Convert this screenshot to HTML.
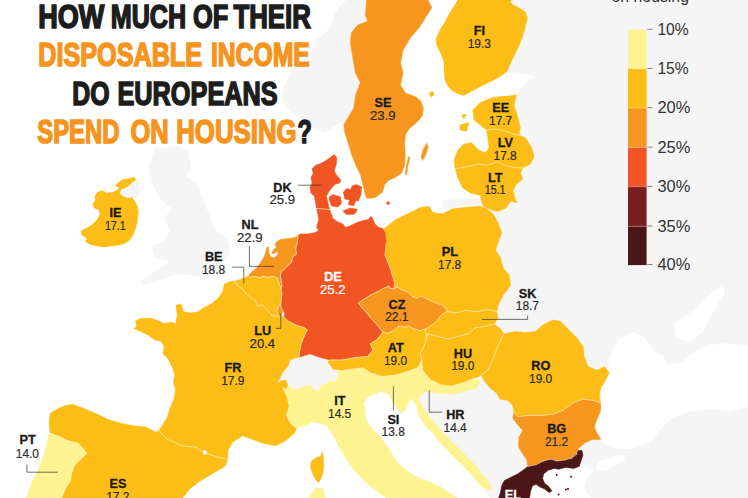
<!DOCTYPE html>
<html><head><meta charset="utf-8"><title>Housing</title>
<style>
html,body{margin:0;padding:0;background:#fff;}
body{width:748px;height:498px;overflow:hidden;font-family:"Liberation Sans",sans-serif;}
svg{display:block;font-family:"Liberation Sans",sans-serif;}
</style></head><body>
<svg width="748" height="498" viewBox="0 0 748 498">
<rect width="748" height="498" fill="#ffffff"/>
<polygon points="347.0,0.0 341.0,5.0 334.0,16.0 331.0,27.0 323.0,35.0 316.6,40.0 311.8,53.0 303.4,60.0 292.5,70.8 285.3,83.5 281.7,96.0 283.5,103.4 290.7,110.6 298.0,117.9 305.0,123.3 312.4,127.0 325.0,132.3 336.0,125.0 341.4,121.5 343.0,128.7 345.0,136.0 360.0,120.0 375.0,0.0" fill="#f5f5f5" stroke="#f5f5f5" stroke-width="0.6" stroke-linejoin="round"/>
<polygon points="155.0,149.0 179.0,146.0 188.0,152.0 191.0,170.0 185.0,176.0 197.0,185.0 203.0,200.0 209.0,215.0 215.0,230.0 227.5,239.4 230.5,251.4 224.5,260.5 215.4,266.5 227.0,270.0 224.0,273.0 200.0,275.5 176.0,274.0 155.0,281.5 143.0,284.5 140.0,281.5 155.0,272.0 170.0,262.0 167.0,260.5 155.0,258.0 152.0,246.0 164.0,242.0 170.2,230.4 164.0,218.0 173.0,209.0 161.0,200.0 152.0,182.0 149.0,167.0" fill="#f5f5f5" stroke="#f5f5f5" stroke-width="0.6" stroke-linejoin="round"/>
<polygon points="121.2,189.0 128.0,186.3 131.4,183.0 135.7,179.5 138.3,185.5 140.0,192.3 137.4,197.4 132.3,197.4 128.0,198.3 123.0,196.6 119.5,193.2" fill="#f5f5f5" stroke="#f5f5f5" stroke-width="0.6" stroke-linejoin="round"/>
<polygon points="277.0,383.2 280.0,378.2 283.0,372.0 288.0,366.0 290.0,360.0 295.0,358.0 300.0,359.0 306.0,357.0 311.0,354.0 318.0,356.0 326.0,359.0 329.0,364.0 334.0,366.0 337.0,371.0 338.0,377.0 335.0,382.0 330.0,380.0 326.0,385.0 322.0,384.0 318.0,392.0 314.0,389.0 310.0,385.0 304.0,387.0 298.0,389.0 292.0,389.0 288.0,386.0 286.0,380.0 281.0,381.0" fill="#f5f5f5" stroke="#f5f5f5" stroke-width="0.6" stroke-linejoin="round"/>
<polygon points="500.0,0.0 500.0,70.0 508.0,71.5 518.0,72.8 533.0,75.3 533.0,78.0 525.5,83.0 516.7,95.4 505.0,100.0 505.0,198.0 480.0,198.0 444.0,200.0 442.0,207.0 450.0,212.0 470.0,214.0 480.0,250.0 490.0,330.0 520.0,340.0 560.0,350.0 560.0,400.0 500.0,360.0 450.0,362.0 420.0,380.0 412.0,392.0 417.0,404.6 420.0,415.0 426.5,425.5 434.0,433.3 442.0,443.8 452.4,454.2 462.8,464.7 473.3,475.0 481.0,485.0 490.0,498.0 748.0,498.0 748.0,0.0" fill="#f5f5f5" stroke="#f5f5f5" stroke-width="0.6" stroke-linejoin="round"/>
<polygon points="608.4,367.5 609.5,358.0 612.8,350.0 619.4,339.0 632.5,332.5 643.4,336.9 650.0,345.6 654.4,352.2 663.0,356.6 667.5,365.3 680.6,363.0 693.7,352.2 706.9,345.6 724.4,343.4 748.0,345.6 748.0,406.9 728.7,411.2 711.2,409.0 689.4,411.2 671.9,417.8 661.0,428.7 650.0,441.9 632.5,448.4 615.0,448.4 601.9,441.9 599.7,437.5 595.3,420.0 599.7,407.0 604.0,389.4" fill="#ffffff" stroke="#ffffff" stroke-width="0.6" stroke-linejoin="round"/>
<polygon points="674.0,323.7 693.7,310.6 711.2,293.0 722.2,286.6 724.4,293.0 711.2,315.0 702.5,332.5 689.4,341.2 676.2,336.9" fill="#ffffff" stroke="#ffffff" stroke-width="0.6" stroke-linejoin="round"/>
<polygon points="598.0,462.0 622.0,455.0 626.0,459.0 606.0,470.0 596.0,470.0" fill="#ffffff" stroke="#ffffff" stroke-width="0.6" stroke-linejoin="round"/>
<polygon points="546.0,470.0 583.6,466.0 593.6,471.0 586.0,478.4 583.6,488.5 591.0,498.0 525.0,498.0 530.0,485.0" fill="#ffffff" stroke="#ffffff" stroke-width="0.6" stroke-linejoin="round"/>
<polygon points="366.6,0.0 365.3,15.0 367.8,21.3 357.8,25.0 351.5,32.6 350.3,42.7 352.8,57.7 355.3,72.8 360.3,82.8 355.5,95.0 353.8,108.3 348.3,117.0 343.8,124.8 344.9,132.6 348.3,143.6 351.6,154.6 356.0,165.7 360.4,174.5 362.6,183.4 364.8,192.2 365.9,197.7 368.0,198.4 374.8,197.7 382.5,192.2 384.7,184.5 389.0,180.0 394.6,177.8 401.3,173.4 404.6,165.7 405.2,154.6 404.6,143.6 405.7,133.7 410.0,128.0 416.7,122.6 422.3,116.0 423.4,108.3 421.0,101.6 416.0,97.0 405.5,92.9 400.5,85.3 403.0,72.8 400.5,62.8 403.0,50.2 410.5,37.7 419.3,27.6 425.6,17.6 431.9,7.5 428.0,0.0" fill="#f7961f" stroke="#f7961f" stroke-width="0.5" stroke-linejoin="round"/>
<polygon points="408.6,156.5 410.0,157.5 408.0,166.0 406.6,174.8 405.2,174.5 406.6,165.0" fill="#f7961f" stroke="#f7961f" stroke-width="0.5" stroke-linejoin="round"/>
<polygon points="426.7,143.2 428.2,146.5 425.8,154.6 422.6,160.4 421.0,157.0 423.4,149.0" fill="#f7961f" stroke="#f7961f" stroke-width="0.5" stroke-linejoin="round"/>
<polygon points="458.0,0.0 453.0,8.0 448.0,16.0 445.0,22.0 440.0,30.0 436.0,39.0 437.0,46.0 441.0,54.0 444.0,62.0 444.0,70.0 445.0,80.0 448.0,86.3 452.0,90.4 457.0,93.4 464.0,95.4 471.0,91.4 479.0,87.3 487.0,83.3 495.0,79.3 502.0,75.3 507.0,71.3 510.0,64.3 514.0,56.0 518.0,48.0 522.0,38.0 525.0,28.0 527.4,18.0 525.4,12.0 519.4,8.0 513.4,5.0 510.3,2.0 511.3,0.0" fill="#fbbd16" stroke="#fbbd16" stroke-width="0.5" stroke-linejoin="round"/>
<polygon points="429.0,93.0 433.0,91.5 434.0,95.0 431.0,97.0" fill="#fbbd16" stroke="#fbbd16" stroke-width="0.5" stroke-linejoin="round"/>
<polygon points="472.7,110.0 480.2,102.6 492.8,97.5 505.3,96.3 516.6,95.0 514.0,105.0 517.9,117.6 520.4,127.7 519.0,135.2 525.4,137.7 531.7,147.7 534.2,156.5 530.4,164.0 522.9,167.8 520.4,172.8 522.9,179.0 516.6,184.0 512.9,190.4 516.6,203.0 511.0,201.0 506.0,208.0 498.0,211.5 490.0,209.5 482.7,205.5 480.2,195.4 470.2,192.9 462.7,187.9 457.7,177.9 455.0,167.8 453.9,160.3 457.7,150.2 463.9,144.0 471.5,142.7 479.0,150.2 485.3,152.8 489.0,147.7 487.8,137.7 486.5,130.2 480.2,125.0 474.0,120.0" fill="#fbbd16" stroke="#fbbd16" stroke-width="0.5" stroke-linejoin="round"/>
<polygon points="460.0,125.0 469.0,122.6 466.4,131.4 460.0,130.0" fill="#fbbd16" stroke="#fbbd16" stroke-width="0.5" stroke-linejoin="round"/>
<polygon points="461.4,115.0 466.4,114.5 464.0,119.0" fill="#fbbd16" stroke="#fbbd16" stroke-width="0.5" stroke-linejoin="round"/>
<polygon points="134.0,177.0 135.7,179.5 131.4,183.0 128.0,186.3 124.6,188.0 121.2,189.0 119.5,193.2 123.0,196.6 128.0,198.3 132.3,197.4 134.8,201.7 137.4,206.0 138.3,212.8 137.4,221.3 135.7,228.0 133.0,235.0 129.7,240.0 124.6,243.5 117.8,245.2 111.0,246.0 104.0,247.0 97.3,246.0 90.5,244.4 85.4,241.8 87.0,238.4 82.0,235.0 81.0,230.7 87.0,228.0 92.2,224.7 97.3,219.6 99.9,214.5 99.0,210.2 93.9,207.7 93.0,203.4 95.6,200.0 94.7,196.6 97.3,192.3 102.4,190.6 106.7,193.2 112.7,192.3 117.0,190.6 119.5,187.2 115.2,186.3 117.8,183.0 122.9,179.5 128.9,178.7" fill="#fbbd16" stroke="#fbbd16" stroke-width="0.5" stroke-linejoin="round"/>
<polygon points="334.2,154.4 336.8,157.7 336.4,164.3 334.2,171.0 337.5,176.4 340.8,179.8 339.7,183.0 335.3,184.2 332.0,187.5 328.7,192.0 326.4,196.3 327.6,200.7 328.7,206.3 329.8,209.6 316.5,208.5 315.4,201.9 314.3,196.3 311.0,193.0 310.0,187.5 312.0,183.0 311.0,177.6 313.2,173.0 312.0,168.7 315.4,165.4 321.0,163.2 325.3,161.0 329.8,157.7" fill="#f05523" stroke="#f05523" stroke-width="0.5" stroke-linejoin="round"/>
<polygon points="328.9,197.2 333.0,194.6 340.3,196.8 341.6,203.2 338.0,207.0 331.6,206.0 329.6,201.0" fill="#f05523" stroke="#f05523" stroke-width="0.5" stroke-linejoin="round"/>
<polygon points="343.3,192.0 347.0,188.5 350.7,189.5 352.0,186.0 356.3,184.6 361.6,186.8 361.0,194.0 358.4,201.0 356.0,200.5 353.6,206.0 348.3,204.5 349.5,200.0 344.8,199.0" fill="#f05523" stroke="#f05523" stroke-width="0.5" stroke-linejoin="round"/>
<polygon points="343.0,210.7 350.7,208.0 357.3,209.2 356.5,212.0 354.0,214.3 346.0,214.6" fill="#f05523" stroke="#f05523" stroke-width="0.5" stroke-linejoin="round"/>
<polygon points="386.8,201.7 389.6,202.2 389.2,204.6 386.8,204.2" fill="#f05523" stroke="#f05523" stroke-width="0.5" stroke-linejoin="round"/>
<polygon points="383.8,228.9 395.0,220.0 407.7,213.8 420.2,207.5 429.0,206.3 432.8,212.6 442.8,213.8 452.8,208.8 465.4,207.5 480.4,206.3 486.7,208.8 493.0,213.8 498.0,222.6 501.8,232.7 498.0,242.7 495.5,250.2 500.5,257.8 503.0,267.8 509.3,275.3 510.6,285.4 503.0,295.4 498.0,305.4 496.8,311.7 488.0,309.2 478.0,311.7 465.4,310.5 455.3,313.0 447.1,311.5 446.4,308.7 442.2,305.2 436.6,303.0 431.0,300.9 425.3,298.1 421.1,296.0 416.9,298.1 412.7,296.7 411.3,294.6 407.0,291.8 401.4,289.7 397.2,286.9 393.7,289.0 394.5,285.0 393.8,280.3 390.0,267.8 385.0,255.2 386.3,242.7" fill="#fbbd16" stroke="#fbbd16" stroke-width="0.5" stroke-linejoin="round"/>
<polygon points="316.5,208.5 329.8,209.6 330.9,213.0 333.0,218.4 337.5,221.7 343.0,224.0 345.2,227.3 349.6,226.0 356.3,222.8 362.9,220.6 368.4,219.5 370.6,216.2 372.8,218.4 375.0,224.0 378.4,227.3 382.8,228.4 385.0,232.8 386.3,242.7 385.0,255.2 390.0,267.8 393.8,280.3 394.5,285.0 393.7,289.0 390.2,288.3 388.8,286.2 385.2,287.6 377.5,291.8 370.5,295.3 363.4,299.5 358.5,303.0 362.0,308.0 366.3,312.2 370.5,317.8 376.1,323.4 380.3,329.0 383.1,331.9 377.9,338.8 370.4,343.8 372.9,350.0 367.9,356.4 355.3,357.6 342.8,360.0 330.2,360.0 320.2,357.6 310.0,353.9 299.0,357.3 299.3,352.5 300.9,344.4 304.0,336.4 307.3,330.0 304.0,327.6 296.0,325.2 288.0,321.0 284.0,317.0 284.8,313.9 282.4,309.0 280.8,304.3 281.2,299.0 282.0,294.0 281.2,288.5 282.0,286.0 281.2,281.2 280.4,276.4 281.2,271.6 284.4,269.2 288.5,265.2 291.7,262.0 292.5,257.0 296.5,253.9 295.7,249.0 297.3,242.7 298.0,235.4 296.6,237.2 300.0,233.9 307.7,233.9 314.3,232.8 318.7,230.6 316.5,227.3 318.7,219.5 317.6,213.0" fill="#f05523" stroke="#f05523" stroke-width="0.5" stroke-linejoin="round"/>
<polygon points="276.4,241.9 280.4,239.5 286.0,238.7 292.5,237.9 296.5,237.0 298.0,235.4 297.3,242.7 295.7,249.0 296.5,253.9 292.5,257.0 291.7,262.0 288.5,265.2 284.4,269.2 281.2,271.6 280.4,276.4 281.2,281.2 282.0,286.0 281.2,288.5 278.8,282.8 277.2,278.0 273.2,276.4 268.4,277.2 263.6,276.4 259.5,278.0 255.5,276.4 250.7,277.2 249.0,274.8 253.0,270.8 257.0,267.6 261.0,262.0 264.4,256.3 266.0,250.7 267.0,246.7 268.7,247.2 268.7,252.3 270.5,256.3 273.2,258.0 276.4,256.3 278.3,253.6 276.7,251.5 273.2,253.9 271.6,253.0 274.0,249.0 276.7,247.5 275.0,245.0" fill="#f7961f" stroke="#f7961f" stroke-width="0.5" stroke-linejoin="round"/>
<polygon points="135.4,320.9 140.7,318.3 151.0,318.3 159.0,320.9 164.2,323.5 170.7,322.2 175.9,323.5 177.2,314.4 175.9,305.2 181.1,303.9 183.7,311.8 190.3,313.0 198.0,311.8 203.3,307.9 211.2,303.9 217.7,298.7 222.9,290.9 224.2,284.4 229.4,281.7 234.6,281.2 236.2,284.0 241.4,288.2 246.2,293.8 251.0,297.9 255.9,301.0 257.5,305.9 262.3,305.0 267.0,309.9 272.0,315.5 277.0,316.3 280.8,316.3 284.0,317.0 288.0,321.0 296.0,325.2 304.0,327.6 307.3,330.0 304.0,336.4 300.9,344.4 299.3,352.5 299.0,357.3 295.0,358.0 290.0,360.0 288.0,366.0 283.0,372.0 280.0,378.2 277.0,383.2 281.0,381.0 286.0,380.0 288.0,386.0 287.0,389.5 283.0,388.0 286.8,395.6 289.3,405.6 286.8,415.7 290.5,423.2 296.8,428.2 294.3,433.2 285.5,440.8 275.5,445.8 263.0,443.3 252.9,439.5 242.9,435.7 232.8,442.0 227.8,450.8 227.8,459.6 217.8,457.0 205.2,453.3 195.2,447.0 182.6,445.8 167.6,439.5 158.8,430.7 162.5,425.0 167.0,418.0 170.0,408.0 174.0,399.0 175.5,390.0 173.5,382.3 174.6,374.4 172.0,366.6 168.0,358.8 162.9,353.6 164.2,347.0 161.6,341.8 153.7,339.2 148.5,335.3 140.7,331.4 134.0,328.7 136.7,326.0" fill="#fbbd16" stroke="#fbbd16" stroke-width="0.5" stroke-linejoin="round"/>
<polygon points="322.1,451.2 323.5,457.3 323.9,465.5 322.8,473.7 320.7,479.2 318.7,482.6 316.0,479.9 313.2,475.0 311.2,469.6 310.5,464.2 312.5,460.0 317.3,457.3 320.7,456.6 321.7,453.2" fill="#fbbd16" stroke="#fbbd16" stroke-width="0.5" stroke-linejoin="round"/>
<polygon points="234.6,281.2 244.3,278.0 249.0,275.6 250.7,277.2 255.5,276.4 259.5,278.0 263.6,276.4 268.4,277.2 273.2,276.4 277.2,278.0 278.8,282.8 281.2,288.5 282.0,294.0 281.2,299.0 280.8,304.3 279.2,305.0 277.0,310.0 277.6,314.7 277.0,316.3 272.0,315.5 267.0,309.9 262.3,305.0 257.5,305.9 255.9,301.0 251.0,297.9 246.2,293.8 241.4,288.2 236.2,284.0" fill="#fbbd16" stroke="#fbbd16" stroke-width="0.5" stroke-linejoin="round"/>
<polygon points="279.2,305.0 281.6,307.5 282.4,312.3 280.8,316.3 277.6,314.7 277.0,310.0" fill="#f7961f" stroke="#f7961f" stroke-width="0.5" stroke-linejoin="round"/>
<polygon points="50.2,433.2 49.0,423.2 50.2,413.2 56.5,409.4 65.3,405.6 72.8,404.4 82.8,408.0 95.4,413.2 108.0,419.4 120.5,423.2 133.0,425.7 145.6,427.0 155.6,432.0 158.8,430.7 167.6,439.5 182.6,445.8 195.2,447.0 205.2,453.3 217.8,457.0 227.8,459.6 225.3,465.9 212.8,473.4 200.2,480.9 190.2,488.5 182.6,498.0 61.5,498.0 65.3,488.5 70.3,481.0 71.5,473.4 74.0,465.9 80.3,459.6 86.6,453.3 82.8,448.3 77.8,443.3 67.8,440.8 60.2,437.0" fill="#fbbd16" stroke="#fbbd16" stroke-width="0.5" stroke-linejoin="round"/>
<polygon points="50.2,433.2 60.2,437.0 67.8,440.8 77.8,443.3 82.8,448.3 86.6,453.3 80.3,459.6 74.0,465.9 71.5,473.4 70.3,481.0 65.3,488.5 61.5,498.0 26.4,498.0 31.4,483.4 37.7,470.9 42.7,458.3 46.4,445.8 49.0,434.5" fill="#fdf391" stroke="#fdf391" stroke-width="0.5" stroke-linejoin="round"/>
<polygon points="283.0,388.0 287.0,389.5 288.0,386.0 292.0,389.0 298.0,389.0 304.0,387.0 310.0,385.0 314.0,389.0 318.0,392.0 322.0,384.0 326.0,385.0 330.0,380.0 335.0,382.0 338.0,377.0 337.0,371.0 342.8,370.2 352.8,369.0 362.9,367.7 370.4,372.7 383.0,376.5 382.2,383.7 384.8,390.2 388.7,394.2 380.9,391.6 367.8,396.8 363.5,404.0 365.0,408.6 366.0,419.3 371.3,427.8 380.0,436.4 386.3,445.0 392.7,455.6 399.0,464.2 409.8,472.7 420.5,479.0 431.2,482.4 442.0,487.7 450.5,494.0 457.0,498.0 386.3,498.0 377.8,492.0 367.0,483.4 356.4,472.7 347.8,462.0 339.3,447.0 332.8,434.2 326.4,425.7 320.0,423.0 312.6,422.0 305.0,425.7 296.8,428.2 290.5,423.2 286.8,415.7 289.3,405.6 286.8,395.6" fill="#fdf391" stroke="#fdf391" stroke-width="0.5" stroke-linejoin="round"/>
<polygon points="314.6,490.0 316.0,487.4 322.8,488.7 325.5,498.0 309.0,498.0" fill="#fdf391" stroke="#fdf391" stroke-width="0.5" stroke-linejoin="round"/>
<polygon points="327.7,361.4 330.2,360.0 342.8,360.0 355.3,357.6 367.9,356.4 372.9,350.0 370.4,343.8 377.9,338.8 383.1,331.9 387.3,333.3 391.6,331.9 395.8,329.0 398.6,326.3 403.5,327.0 409.2,326.3 414.0,329.0 419.7,330.5 425.3,329.0 426.6,337.7 424.0,346.5 420.3,352.8 421.6,360.3 418.0,367.7 408.0,371.5 395.5,375.2 383.0,376.5 370.4,372.7 362.9,367.7 352.8,369.0 342.8,370.2 332.8,369.0" fill="#fbbd16" stroke="#fbbd16" stroke-width="0.5" stroke-linejoin="round"/>
<polygon points="393.7,289.0 390.2,288.3 388.8,286.2 385.2,287.6 377.5,291.8 370.5,295.3 363.4,299.5 358.5,303.0 362.0,308.0 366.3,312.2 370.5,317.8 376.1,323.4 380.3,329.0 383.1,331.9 387.3,333.3 391.6,331.9 395.8,329.0 398.6,326.3 403.5,327.0 409.2,326.3 414.0,329.0 419.7,330.5 425.3,329.0 431.0,325.6 435.9,322.0 439.4,317.8 442.9,313.6 447.1,311.5 446.4,308.7 442.2,305.2 436.6,303.0 431.0,300.9 425.3,298.1 421.1,296.0 416.9,298.1 412.7,296.7 411.3,294.6 407.0,291.8 401.4,289.7 397.2,286.9" fill="#f7961f" stroke="#f7961f" stroke-width="0.5" stroke-linejoin="round"/>
<polygon points="447.1,311.5 455.3,313.0 465.4,310.5 478.0,311.7 488.0,309.2 496.8,311.7 498.0,317.6 494.4,324.0 485.6,326.4 475.5,327.7 468.0,334.0 458.0,336.5 448.0,339.0 437.9,336.5 427.9,334.0 426.6,337.7 425.3,329.0 431.0,325.6 435.9,322.0 439.4,317.8 442.9,313.6 447.1,311.5" fill="#fbbd16" stroke="#fbbd16" stroke-width="0.5" stroke-linejoin="round"/>
<polygon points="426.6,337.7 427.9,334.0 437.9,336.5 448.0,339.0 458.0,336.5 468.0,334.0 475.5,327.7 485.6,326.4 494.4,324.0 500.6,329.0 504.0,334.0 500.0,341.4 496.4,350.2 492.6,360.2 487.6,370.3 481.3,375.3 474.9,378.0 464.4,382.4 451.4,386.3 441.0,385.0 430.5,379.8 422.7,370.7 421.6,360.3 420.3,352.8 424.0,346.5" fill="#fbbd16" stroke="#fbbd16" stroke-width="0.5" stroke-linejoin="round"/>
<polygon points="504.0,334.0 515.2,331.4 525.3,332.6 535.3,331.4 542.8,325.0 552.9,320.0 560.4,321.3 568.0,328.9 576.7,337.7 583.0,346.4 584.2,356.5 588.0,366.5 596.8,370.3 604.3,366.5 609.3,372.8 605.6,380.3 600.6,387.9 599.3,396.6 600.6,403.0 593.0,400.4 583.0,399.0 573.0,403.0 563.0,410.4 552.9,414.2 540.3,415.5 527.8,415.5 517.7,416.7 514.0,411.7 512.7,405.4 507.7,400.4 500.0,399.0 496.4,392.9 490.0,387.9 483.8,380.3 481.3,375.3 487.6,370.3 492.6,360.2 496.4,350.2 500.0,341.4" fill="#fbbd16" stroke="#fbbd16" stroke-width="0.5" stroke-linejoin="round"/>
<polygon points="514.0,411.7 517.7,416.7 527.8,415.5 540.3,415.5 552.9,414.2 563.0,410.4 573.0,403.0 583.0,399.0 593.0,400.4 600.6,403.0 600.6,410.7 596.8,419.4 594.3,427.0 596.8,433.2 601.0,439.5 592.3,439.4 584.8,443.0 579.2,447.8 577.3,450.6 576.4,454.3 571.7,458.0 564.2,460.0 556.7,460.9 551.1,459.0 543.6,460.9 536.1,464.6 527.7,466.5 526.8,460.0 523.0,454.3 518.4,446.8 519.0,437.0 522.8,430.7 516.5,423.2 512.7,418.2" fill="#f7961f" stroke="#f7961f" stroke-width="0.5" stroke-linejoin="round"/>
<polygon points="527.7,466.5 536.1,464.6 543.6,460.9 551.1,459.0 556.7,460.9 564.2,460.0 571.7,458.0 576.4,454.3 577.3,450.6 582.0,450.6 583.0,455.3 581.0,460.9 579.2,466.5 573.6,468.4 566.0,467.4 558.6,469.3 554.0,468.4 548.3,470.2 543.6,474.0 542.7,478.7 544.6,483.3 548.3,486.1 552.0,490.8 549.2,492.7 544.6,489.0 539.9,487.0 536.1,484.3 532.4,486.1 530.5,491.8 529.6,498.0 498.7,498.0 500.6,491.8 501.5,486.1 504.3,480.5 511.8,476.8 517.4,474.0 523.0,470.2" fill="#4b1618" stroke="#4b1618" stroke-width="0.5" stroke-linejoin="round"/>
<polygon points="383.0,376.5 395.5,375.2 408.0,371.5 418.0,367.7 420.6,374.6 416.0,381.0 412.2,386.3 408.3,391.6 399.2,394.2 388.7,394.2 384.8,390.2 382.2,383.7" fill="#fdf391" stroke="#fdf391" stroke-width="0.5" stroke-linejoin="round"/>
<polygon points="420.6,374.6 418.0,367.7 421.6,360.3 422.7,370.7 430.5,379.8 441.0,385.0 451.4,386.3 464.4,382.4 474.9,378.0 479.5,381.5 477.5,387.6 464.4,391.6 451.4,394.2 438.3,392.9 425.3,391.6 418.7,398.0 422.7,407.2 430.5,417.7 441.0,430.7 451.4,441.2 464.4,454.2 474.9,464.7 482.7,475.0 490.0,483.0 492.0,490.0 484.0,488.0 480.0,485.0 472.3,475.0 461.8,464.7 451.4,454.2 441.0,443.8 433.0,433.3 425.3,425.5 418.7,415.0 416.0,404.6 410.9,398.0 407.0,407.2 401.8,413.7 395.2,405.9 391.3,399.4 388.7,394.2 399.2,394.2 408.3,391.6 412.2,386.3 416.0,381.0" fill="#fdf391" stroke="#fdf391" stroke-width="0.5" stroke-linejoin="round"/>
<line x1="316.5" y1="208.5" x2="329.8" y2="209.6" stroke="#ffefc4" stroke-opacity="0.85" stroke-width="0.8" stroke-linecap="round"/>
<line x1="488" y1="309.2" x2="496.8" y2="311.7" stroke="#ffefc4" stroke-opacity="0.85" stroke-width="0.8" stroke-linecap="round"/>
<line x1="478" y1="311.7" x2="488" y2="309.2" stroke="#ffefc4" stroke-opacity="0.85" stroke-width="0.8" stroke-linecap="round"/>
<line x1="465.4" y1="310.5" x2="478" y2="311.7" stroke="#ffefc4" stroke-opacity="0.85" stroke-width="0.8" stroke-linecap="round"/>
<line x1="455.3" y1="313" x2="465.4" y2="310.5" stroke="#ffefc4" stroke-opacity="0.85" stroke-width="0.8" stroke-linecap="round"/>
<line x1="447.1" y1="311.5" x2="455.3" y2="313" stroke="#ffefc4" stroke-opacity="0.85" stroke-width="0.8" stroke-linecap="round"/>
<line x1="446.4" y1="308.7" x2="447.1" y2="311.5" stroke="#ffefc4" stroke-opacity="0.85" stroke-width="0.8" stroke-linecap="round"/>
<line x1="442.2" y1="305.2" x2="446.4" y2="308.7" stroke="#ffefc4" stroke-opacity="0.85" stroke-width="0.8" stroke-linecap="round"/>
<line x1="436.6" y1="303" x2="442.2" y2="305.2" stroke="#ffefc4" stroke-opacity="0.85" stroke-width="0.8" stroke-linecap="round"/>
<line x1="431" y1="300.9" x2="436.6" y2="303" stroke="#ffefc4" stroke-opacity="0.85" stroke-width="0.8" stroke-linecap="round"/>
<line x1="425.3" y1="298.1" x2="431" y2="300.9" stroke="#ffefc4" stroke-opacity="0.85" stroke-width="0.8" stroke-linecap="round"/>
<line x1="421.1" y1="296" x2="425.3" y2="298.1" stroke="#ffefc4" stroke-opacity="0.85" stroke-width="0.8" stroke-linecap="round"/>
<line x1="416.9" y1="298.1" x2="421.1" y2="296" stroke="#ffefc4" stroke-opacity="0.85" stroke-width="0.8" stroke-linecap="round"/>
<line x1="412.7" y1="296.7" x2="416.9" y2="298.1" stroke="#ffefc4" stroke-opacity="0.85" stroke-width="0.8" stroke-linecap="round"/>
<line x1="411.3" y1="294.6" x2="412.7" y2="296.7" stroke="#ffefc4" stroke-opacity="0.85" stroke-width="0.8" stroke-linecap="round"/>
<line x1="407" y1="291.8" x2="411.3" y2="294.6" stroke="#ffefc4" stroke-opacity="0.85" stroke-width="0.8" stroke-linecap="round"/>
<line x1="401.4" y1="289.7" x2="407" y2="291.8" stroke="#ffefc4" stroke-opacity="0.85" stroke-width="0.8" stroke-linecap="round"/>
<line x1="397.2" y1="286.9" x2="401.4" y2="289.7" stroke="#ffefc4" stroke-opacity="0.85" stroke-width="0.8" stroke-linecap="round"/>
<line x1="393.7" y1="289" x2="397.2" y2="286.9" stroke="#ffefc4" stroke-opacity="0.85" stroke-width="0.8" stroke-linecap="round"/>
<line x1="393.7" y1="289" x2="394.5" y2="285" stroke="#ffefc4" stroke-opacity="0.85" stroke-width="0.8" stroke-linecap="round"/>
<line x1="393.8" y1="280.3" x2="394.5" y2="285" stroke="#ffefc4" stroke-opacity="0.85" stroke-width="0.8" stroke-linecap="round"/>
<line x1="390" y1="267.8" x2="393.8" y2="280.3" stroke="#ffefc4" stroke-opacity="0.85" stroke-width="0.8" stroke-linecap="round"/>
<line x1="385" y1="255.2" x2="390" y2="267.8" stroke="#ffefc4" stroke-opacity="0.85" stroke-width="0.8" stroke-linecap="round"/>
<line x1="385" y1="255.2" x2="386.3" y2="242.7" stroke="#ffefc4" stroke-opacity="0.85" stroke-width="0.8" stroke-linecap="round"/>
<line x1="390.2" y1="288.3" x2="393.7" y2="289" stroke="#ffefc4" stroke-opacity="0.85" stroke-width="0.8" stroke-linecap="round"/>
<line x1="388.8" y1="286.2" x2="390.2" y2="288.3" stroke="#ffefc4" stroke-opacity="0.85" stroke-width="0.8" stroke-linecap="round"/>
<line x1="385.2" y1="287.6" x2="388.8" y2="286.2" stroke="#ffefc4" stroke-opacity="0.85" stroke-width="0.8" stroke-linecap="round"/>
<line x1="377.5" y1="291.8" x2="385.2" y2="287.6" stroke="#ffefc4" stroke-opacity="0.85" stroke-width="0.8" stroke-linecap="round"/>
<line x1="370.5" y1="295.3" x2="377.5" y2="291.8" stroke="#ffefc4" stroke-opacity="0.85" stroke-width="0.8" stroke-linecap="round"/>
<line x1="363.4" y1="299.5" x2="370.5" y2="295.3" stroke="#ffefc4" stroke-opacity="0.85" stroke-width="0.8" stroke-linecap="round"/>
<line x1="358.5" y1="303" x2="363.4" y2="299.5" stroke="#ffefc4" stroke-opacity="0.85" stroke-width="0.8" stroke-linecap="round"/>
<line x1="358.5" y1="303" x2="362" y2="308" stroke="#ffefc4" stroke-opacity="0.85" stroke-width="0.8" stroke-linecap="round"/>
<line x1="362" y1="308" x2="366.3" y2="312.2" stroke="#ffefc4" stroke-opacity="0.85" stroke-width="0.8" stroke-linecap="round"/>
<line x1="366.3" y1="312.2" x2="370.5" y2="317.8" stroke="#ffefc4" stroke-opacity="0.85" stroke-width="0.8" stroke-linecap="round"/>
<line x1="370.5" y1="317.8" x2="376.1" y2="323.4" stroke="#ffefc4" stroke-opacity="0.85" stroke-width="0.8" stroke-linecap="round"/>
<line x1="376.1" y1="323.4" x2="380.3" y2="329" stroke="#ffefc4" stroke-opacity="0.85" stroke-width="0.8" stroke-linecap="round"/>
<line x1="380.3" y1="329" x2="383.1" y2="331.9" stroke="#ffefc4" stroke-opacity="0.85" stroke-width="0.8" stroke-linecap="round"/>
<line x1="377.9" y1="338.8" x2="383.1" y2="331.9" stroke="#ffefc4" stroke-opacity="0.85" stroke-width="0.8" stroke-linecap="round"/>
<line x1="370.4" y1="343.8" x2="377.9" y2="338.8" stroke="#ffefc4" stroke-opacity="0.85" stroke-width="0.8" stroke-linecap="round"/>
<line x1="370.4" y1="343.8" x2="372.9" y2="350" stroke="#ffefc4" stroke-opacity="0.85" stroke-width="0.8" stroke-linecap="round"/>
<line x1="367.9" y1="356.4" x2="372.9" y2="350" stroke="#ffefc4" stroke-opacity="0.85" stroke-width="0.8" stroke-linecap="round"/>
<line x1="355.3" y1="357.6" x2="367.9" y2="356.4" stroke="#ffefc4" stroke-opacity="0.85" stroke-width="0.8" stroke-linecap="round"/>
<line x1="342.8" y1="360" x2="355.3" y2="357.6" stroke="#ffefc4" stroke-opacity="0.85" stroke-width="0.8" stroke-linecap="round"/>
<line x1="330.2" y1="360" x2="342.8" y2="360" stroke="#ffefc4" stroke-opacity="0.85" stroke-width="0.8" stroke-linecap="round"/>
<line x1="299" y1="357.3" x2="299.3" y2="352.5" stroke="#ffefc4" stroke-opacity="0.85" stroke-width="0.8" stroke-linecap="round"/>
<line x1="299.3" y1="352.5" x2="300.9" y2="344.4" stroke="#ffefc4" stroke-opacity="0.85" stroke-width="0.8" stroke-linecap="round"/>
<line x1="300.9" y1="344.4" x2="304" y2="336.4" stroke="#ffefc4" stroke-opacity="0.85" stroke-width="0.8" stroke-linecap="round"/>
<line x1="304" y1="336.4" x2="307.3" y2="330" stroke="#ffefc4" stroke-opacity="0.85" stroke-width="0.8" stroke-linecap="round"/>
<line x1="304" y1="327.6" x2="307.3" y2="330" stroke="#ffefc4" stroke-opacity="0.85" stroke-width="0.8" stroke-linecap="round"/>
<line x1="296" y1="325.2" x2="304" y2="327.6" stroke="#ffefc4" stroke-opacity="0.85" stroke-width="0.8" stroke-linecap="round"/>
<line x1="288" y1="321" x2="296" y2="325.2" stroke="#ffefc4" stroke-opacity="0.85" stroke-width="0.8" stroke-linecap="round"/>
<line x1="284" y1="317" x2="288" y2="321" stroke="#ffefc4" stroke-opacity="0.85" stroke-width="0.8" stroke-linecap="round"/>
<line x1="280.8" y1="304.3" x2="281.2" y2="299" stroke="#ffefc4" stroke-opacity="0.85" stroke-width="0.8" stroke-linecap="round"/>
<line x1="281.2" y1="299" x2="282" y2="294" stroke="#ffefc4" stroke-opacity="0.85" stroke-width="0.8" stroke-linecap="round"/>
<line x1="281.2" y1="288.5" x2="282" y2="294" stroke="#ffefc4" stroke-opacity="0.85" stroke-width="0.8" stroke-linecap="round"/>
<line x1="281.2" y1="288.5" x2="282" y2="286" stroke="#ffefc4" stroke-opacity="0.85" stroke-width="0.8" stroke-linecap="round"/>
<line x1="281.2" y1="281.2" x2="282" y2="286" stroke="#ffefc4" stroke-opacity="0.85" stroke-width="0.8" stroke-linecap="round"/>
<line x1="280.4" y1="276.4" x2="281.2" y2="281.2" stroke="#ffefc4" stroke-opacity="0.85" stroke-width="0.8" stroke-linecap="round"/>
<line x1="280.4" y1="276.4" x2="281.2" y2="271.6" stroke="#ffefc4" stroke-opacity="0.85" stroke-width="0.8" stroke-linecap="round"/>
<line x1="281.2" y1="271.6" x2="284.4" y2="269.2" stroke="#ffefc4" stroke-opacity="0.85" stroke-width="0.8" stroke-linecap="round"/>
<line x1="284.4" y1="269.2" x2="288.5" y2="265.2" stroke="#ffefc4" stroke-opacity="0.85" stroke-width="0.8" stroke-linecap="round"/>
<line x1="288.5" y1="265.2" x2="291.7" y2="262" stroke="#ffefc4" stroke-opacity="0.85" stroke-width="0.8" stroke-linecap="round"/>
<line x1="291.7" y1="262" x2="292.5" y2="257" stroke="#ffefc4" stroke-opacity="0.85" stroke-width="0.8" stroke-linecap="round"/>
<line x1="292.5" y1="257" x2="296.5" y2="253.9" stroke="#ffefc4" stroke-opacity="0.85" stroke-width="0.8" stroke-linecap="round"/>
<line x1="295.7" y1="249" x2="296.5" y2="253.9" stroke="#ffefc4" stroke-opacity="0.85" stroke-width="0.8" stroke-linecap="round"/>
<line x1="295.7" y1="249" x2="297.3" y2="242.7" stroke="#ffefc4" stroke-opacity="0.85" stroke-width="0.8" stroke-linecap="round"/>
<line x1="297.3" y1="242.7" x2="298" y2="235.4" stroke="#ffefc4" stroke-opacity="0.85" stroke-width="0.8" stroke-linecap="round"/>
<line x1="278.8" y1="282.8" x2="281.2" y2="288.5" stroke="#ffefc4" stroke-opacity="0.85" stroke-width="0.8" stroke-linecap="round"/>
<line x1="277.2" y1="278" x2="278.8" y2="282.8" stroke="#ffefc4" stroke-opacity="0.85" stroke-width="0.8" stroke-linecap="round"/>
<line x1="273.2" y1="276.4" x2="277.2" y2="278" stroke="#ffefc4" stroke-opacity="0.85" stroke-width="0.8" stroke-linecap="round"/>
<line x1="268.4" y1="277.2" x2="273.2" y2="276.4" stroke="#ffefc4" stroke-opacity="0.85" stroke-width="0.8" stroke-linecap="round"/>
<line x1="263.6" y1="276.4" x2="268.4" y2="277.2" stroke="#ffefc4" stroke-opacity="0.85" stroke-width="0.8" stroke-linecap="round"/>
<line x1="259.5" y1="278" x2="263.6" y2="276.4" stroke="#ffefc4" stroke-opacity="0.85" stroke-width="0.8" stroke-linecap="round"/>
<line x1="255.5" y1="276.4" x2="259.5" y2="278" stroke="#ffefc4" stroke-opacity="0.85" stroke-width="0.8" stroke-linecap="round"/>
<line x1="250.7" y1="277.2" x2="255.5" y2="276.4" stroke="#ffefc4" stroke-opacity="0.85" stroke-width="0.8" stroke-linecap="round"/>
<line x1="234.6" y1="281.2" x2="236.2" y2="284" stroke="#ffefc4" stroke-opacity="0.85" stroke-width="0.8" stroke-linecap="round"/>
<line x1="236.2" y1="284" x2="241.4" y2="288.2" stroke="#ffefc4" stroke-opacity="0.85" stroke-width="0.8" stroke-linecap="round"/>
<line x1="241.4" y1="288.2" x2="246.2" y2="293.8" stroke="#ffefc4" stroke-opacity="0.85" stroke-width="0.8" stroke-linecap="round"/>
<line x1="246.2" y1="293.8" x2="251" y2="297.9" stroke="#ffefc4" stroke-opacity="0.85" stroke-width="0.8" stroke-linecap="round"/>
<line x1="251" y1="297.9" x2="255.9" y2="301" stroke="#ffefc4" stroke-opacity="0.85" stroke-width="0.8" stroke-linecap="round"/>
<line x1="255.9" y1="301" x2="257.5" y2="305.9" stroke="#ffefc4" stroke-opacity="0.85" stroke-width="0.8" stroke-linecap="round"/>
<line x1="257.5" y1="305.9" x2="262.3" y2="305" stroke="#ffefc4" stroke-opacity="0.85" stroke-width="0.8" stroke-linecap="round"/>
<line x1="262.3" y1="305" x2="267" y2="309.9" stroke="#ffefc4" stroke-opacity="0.85" stroke-width="0.8" stroke-linecap="round"/>
<line x1="267" y1="309.9" x2="272" y2="315.5" stroke="#ffefc4" stroke-opacity="0.85" stroke-width="0.8" stroke-linecap="round"/>
<line x1="272" y1="315.5" x2="277" y2="316.3" stroke="#ffefc4" stroke-opacity="0.85" stroke-width="0.8" stroke-linecap="round"/>
<line x1="287" y1="389.5" x2="288" y2="386" stroke="#ffefc4" stroke-opacity="0.85" stroke-width="0.8" stroke-linecap="round"/>
<line x1="283" y1="388" x2="287" y2="389.5" stroke="#ffefc4" stroke-opacity="0.85" stroke-width="0.8" stroke-linecap="round"/>
<line x1="283" y1="388" x2="286.8" y2="395.6" stroke="#ffefc4" stroke-opacity="0.85" stroke-width="0.8" stroke-linecap="round"/>
<line x1="286.8" y1="395.6" x2="289.3" y2="405.6" stroke="#ffefc4" stroke-opacity="0.85" stroke-width="0.8" stroke-linecap="round"/>
<line x1="286.8" y1="415.7" x2="289.3" y2="405.6" stroke="#ffefc4" stroke-opacity="0.85" stroke-width="0.8" stroke-linecap="round"/>
<line x1="286.8" y1="415.7" x2="290.5" y2="423.2" stroke="#ffefc4" stroke-opacity="0.85" stroke-width="0.8" stroke-linecap="round"/>
<line x1="290.5" y1="423.2" x2="296.8" y2="428.2" stroke="#ffefc4" stroke-opacity="0.85" stroke-width="0.8" stroke-linecap="round"/>
<line x1="217.8" y1="457" x2="227.8" y2="459.6" stroke="#ffefc4" stroke-opacity="0.85" stroke-width="0.8" stroke-linecap="round"/>
<line x1="205.2" y1="453.3" x2="217.8" y2="457" stroke="#ffefc4" stroke-opacity="0.85" stroke-width="0.8" stroke-linecap="round"/>
<line x1="195.2" y1="447" x2="205.2" y2="453.3" stroke="#ffefc4" stroke-opacity="0.85" stroke-width="0.8" stroke-linecap="round"/>
<line x1="182.6" y1="445.8" x2="195.2" y2="447" stroke="#ffefc4" stroke-opacity="0.85" stroke-width="0.8" stroke-linecap="round"/>
<line x1="167.6" y1="439.5" x2="182.6" y2="445.8" stroke="#ffefc4" stroke-opacity="0.85" stroke-width="0.8" stroke-linecap="round"/>
<line x1="158.8" y1="430.7" x2="167.6" y2="439.5" stroke="#ffefc4" stroke-opacity="0.85" stroke-width="0.8" stroke-linecap="round"/>
<line x1="277" y1="310" x2="279.2" y2="305" stroke="#ffefc4" stroke-opacity="0.85" stroke-width="0.8" stroke-linecap="round"/>
<line x1="277" y1="310" x2="277.6" y2="314.7" stroke="#ffefc4" stroke-opacity="0.85" stroke-width="0.8" stroke-linecap="round"/>
<line x1="61.5" y1="498" x2="65.3" y2="488.5" stroke="#ffefc4" stroke-opacity="0.85" stroke-width="0.8" stroke-linecap="round"/>
<line x1="65.3" y1="488.5" x2="70.3" y2="481" stroke="#ffefc4" stroke-opacity="0.85" stroke-width="0.8" stroke-linecap="round"/>
<line x1="70.3" y1="481" x2="71.5" y2="473.4" stroke="#ffefc4" stroke-opacity="0.85" stroke-width="0.8" stroke-linecap="round"/>
<line x1="71.5" y1="473.4" x2="74" y2="465.9" stroke="#ffefc4" stroke-opacity="0.85" stroke-width="0.8" stroke-linecap="round"/>
<line x1="74" y1="465.9" x2="80.3" y2="459.6" stroke="#ffefc4" stroke-opacity="0.85" stroke-width="0.8" stroke-linecap="round"/>
<line x1="80.3" y1="459.6" x2="86.6" y2="453.3" stroke="#ffefc4" stroke-opacity="0.85" stroke-width="0.8" stroke-linecap="round"/>
<line x1="82.8" y1="448.3" x2="86.6" y2="453.3" stroke="#ffefc4" stroke-opacity="0.85" stroke-width="0.8" stroke-linecap="round"/>
<line x1="77.8" y1="443.3" x2="82.8" y2="448.3" stroke="#ffefc4" stroke-opacity="0.85" stroke-width="0.8" stroke-linecap="round"/>
<line x1="67.8" y1="440.8" x2="77.8" y2="443.3" stroke="#ffefc4" stroke-opacity="0.85" stroke-width="0.8" stroke-linecap="round"/>
<line x1="60.2" y1="437" x2="67.8" y2="440.8" stroke="#ffefc4" stroke-opacity="0.85" stroke-width="0.8" stroke-linecap="round"/>
<line x1="50.2" y1="433.2" x2="60.2" y2="437" stroke="#ffefc4" stroke-opacity="0.85" stroke-width="0.8" stroke-linecap="round"/>
<line x1="342.8" y1="370.2" x2="352.8" y2="369" stroke="#ffefc4" stroke-opacity="0.85" stroke-width="0.8" stroke-linecap="round"/>
<line x1="352.8" y1="369" x2="362.9" y2="367.7" stroke="#ffefc4" stroke-opacity="0.85" stroke-width="0.8" stroke-linecap="round"/>
<line x1="362.9" y1="367.7" x2="370.4" y2="372.7" stroke="#ffefc4" stroke-opacity="0.85" stroke-width="0.8" stroke-linecap="round"/>
<line x1="370.4" y1="372.7" x2="383" y2="376.5" stroke="#ffefc4" stroke-opacity="0.85" stroke-width="0.8" stroke-linecap="round"/>
<line x1="382.2" y1="383.7" x2="383" y2="376.5" stroke="#ffefc4" stroke-opacity="0.85" stroke-width="0.8" stroke-linecap="round"/>
<line x1="382.2" y1="383.7" x2="384.8" y2="390.2" stroke="#ffefc4" stroke-opacity="0.85" stroke-width="0.8" stroke-linecap="round"/>
<line x1="384.8" y1="390.2" x2="388.7" y2="394.2" stroke="#ffefc4" stroke-opacity="0.85" stroke-width="0.8" stroke-linecap="round"/>
<line x1="383.1" y1="331.9" x2="387.3" y2="333.3" stroke="#ffefc4" stroke-opacity="0.85" stroke-width="0.8" stroke-linecap="round"/>
<line x1="387.3" y1="333.3" x2="391.6" y2="331.9" stroke="#ffefc4" stroke-opacity="0.85" stroke-width="0.8" stroke-linecap="round"/>
<line x1="391.6" y1="331.9" x2="395.8" y2="329" stroke="#ffefc4" stroke-opacity="0.85" stroke-width="0.8" stroke-linecap="round"/>
<line x1="395.8" y1="329" x2="398.6" y2="326.3" stroke="#ffefc4" stroke-opacity="0.85" stroke-width="0.8" stroke-linecap="round"/>
<line x1="398.6" y1="326.3" x2="403.5" y2="327" stroke="#ffefc4" stroke-opacity="0.85" stroke-width="0.8" stroke-linecap="round"/>
<line x1="403.5" y1="327" x2="409.2" y2="326.3" stroke="#ffefc4" stroke-opacity="0.85" stroke-width="0.8" stroke-linecap="round"/>
<line x1="409.2" y1="326.3" x2="414" y2="329" stroke="#ffefc4" stroke-opacity="0.85" stroke-width="0.8" stroke-linecap="round"/>
<line x1="414" y1="329" x2="419.7" y2="330.5" stroke="#ffefc4" stroke-opacity="0.85" stroke-width="0.8" stroke-linecap="round"/>
<line x1="419.7" y1="330.5" x2="425.3" y2="329" stroke="#ffefc4" stroke-opacity="0.85" stroke-width="0.8" stroke-linecap="round"/>
<line x1="425.3" y1="329" x2="426.6" y2="337.7" stroke="#ffefc4" stroke-opacity="0.85" stroke-width="0.8" stroke-linecap="round"/>
<line x1="424" y1="346.5" x2="426.6" y2="337.7" stroke="#ffefc4" stroke-opacity="0.85" stroke-width="0.8" stroke-linecap="round"/>
<line x1="420.3" y1="352.8" x2="424" y2="346.5" stroke="#ffefc4" stroke-opacity="0.85" stroke-width="0.8" stroke-linecap="round"/>
<line x1="420.3" y1="352.8" x2="421.6" y2="360.3" stroke="#ffefc4" stroke-opacity="0.85" stroke-width="0.8" stroke-linecap="round"/>
<line x1="418" y1="367.7" x2="421.6" y2="360.3" stroke="#ffefc4" stroke-opacity="0.85" stroke-width="0.8" stroke-linecap="round"/>
<line x1="408" y1="371.5" x2="418" y2="367.7" stroke="#ffefc4" stroke-opacity="0.85" stroke-width="0.8" stroke-linecap="round"/>
<line x1="395.5" y1="375.2" x2="408" y2="371.5" stroke="#ffefc4" stroke-opacity="0.85" stroke-width="0.8" stroke-linecap="round"/>
<line x1="383" y1="376.5" x2="395.5" y2="375.2" stroke="#ffefc4" stroke-opacity="0.85" stroke-width="0.8" stroke-linecap="round"/>
<line x1="425.3" y1="329" x2="431" y2="325.6" stroke="#ffefc4" stroke-opacity="0.85" stroke-width="0.8" stroke-linecap="round"/>
<line x1="431" y1="325.6" x2="435.9" y2="322" stroke="#ffefc4" stroke-opacity="0.85" stroke-width="0.8" stroke-linecap="round"/>
<line x1="435.9" y1="322" x2="439.4" y2="317.8" stroke="#ffefc4" stroke-opacity="0.85" stroke-width="0.8" stroke-linecap="round"/>
<line x1="439.4" y1="317.8" x2="442.9" y2="313.6" stroke="#ffefc4" stroke-opacity="0.85" stroke-width="0.8" stroke-linecap="round"/>
<line x1="442.9" y1="313.6" x2="447.1" y2="311.5" stroke="#ffefc4" stroke-opacity="0.85" stroke-width="0.8" stroke-linecap="round"/>
<line x1="485.6" y1="326.4" x2="494.4" y2="324" stroke="#ffefc4" stroke-opacity="0.85" stroke-width="0.8" stroke-linecap="round"/>
<line x1="475.5" y1="327.7" x2="485.6" y2="326.4" stroke="#ffefc4" stroke-opacity="0.85" stroke-width="0.8" stroke-linecap="round"/>
<line x1="468" y1="334" x2="475.5" y2="327.7" stroke="#ffefc4" stroke-opacity="0.85" stroke-width="0.8" stroke-linecap="round"/>
<line x1="458" y1="336.5" x2="468" y2="334" stroke="#ffefc4" stroke-opacity="0.85" stroke-width="0.8" stroke-linecap="round"/>
<line x1="448" y1="339" x2="458" y2="336.5" stroke="#ffefc4" stroke-opacity="0.85" stroke-width="0.8" stroke-linecap="round"/>
<line x1="437.9" y1="336.5" x2="448" y2="339" stroke="#ffefc4" stroke-opacity="0.85" stroke-width="0.8" stroke-linecap="round"/>
<line x1="427.9" y1="334" x2="437.9" y2="336.5" stroke="#ffefc4" stroke-opacity="0.85" stroke-width="0.8" stroke-linecap="round"/>
<line x1="426.6" y1="337.7" x2="427.9" y2="334" stroke="#ffefc4" stroke-opacity="0.85" stroke-width="0.8" stroke-linecap="round"/>
<line x1="500" y1="341.4" x2="504" y2="334" stroke="#ffefc4" stroke-opacity="0.85" stroke-width="0.8" stroke-linecap="round"/>
<line x1="496.4" y1="350.2" x2="500" y2="341.4" stroke="#ffefc4" stroke-opacity="0.85" stroke-width="0.8" stroke-linecap="round"/>
<line x1="492.6" y1="360.2" x2="496.4" y2="350.2" stroke="#ffefc4" stroke-opacity="0.85" stroke-width="0.8" stroke-linecap="round"/>
<line x1="487.6" y1="370.3" x2="492.6" y2="360.2" stroke="#ffefc4" stroke-opacity="0.85" stroke-width="0.8" stroke-linecap="round"/>
<line x1="481.3" y1="375.3" x2="487.6" y2="370.3" stroke="#ffefc4" stroke-opacity="0.85" stroke-width="0.8" stroke-linecap="round"/>
<line x1="464.4" y1="382.4" x2="474.9" y2="378" stroke="#ffefc4" stroke-opacity="0.85" stroke-width="0.8" stroke-linecap="round"/>
<line x1="451.4" y1="386.3" x2="464.4" y2="382.4" stroke="#ffefc4" stroke-opacity="0.85" stroke-width="0.8" stroke-linecap="round"/>
<line x1="441" y1="385" x2="451.4" y2="386.3" stroke="#ffefc4" stroke-opacity="0.85" stroke-width="0.8" stroke-linecap="round"/>
<line x1="430.5" y1="379.8" x2="441" y2="385" stroke="#ffefc4" stroke-opacity="0.85" stroke-width="0.8" stroke-linecap="round"/>
<line x1="422.7" y1="370.7" x2="430.5" y2="379.8" stroke="#ffefc4" stroke-opacity="0.85" stroke-width="0.8" stroke-linecap="round"/>
<line x1="421.6" y1="360.3" x2="422.7" y2="370.7" stroke="#ffefc4" stroke-opacity="0.85" stroke-width="0.8" stroke-linecap="round"/>
<line x1="593" y1="400.4" x2="600.6" y2="403" stroke="#ffefc4" stroke-opacity="0.85" stroke-width="0.8" stroke-linecap="round"/>
<line x1="583" y1="399" x2="593" y2="400.4" stroke="#ffefc4" stroke-opacity="0.85" stroke-width="0.8" stroke-linecap="round"/>
<line x1="573" y1="403" x2="583" y2="399" stroke="#ffefc4" stroke-opacity="0.85" stroke-width="0.8" stroke-linecap="round"/>
<line x1="563" y1="410.4" x2="573" y2="403" stroke="#ffefc4" stroke-opacity="0.85" stroke-width="0.8" stroke-linecap="round"/>
<line x1="552.9" y1="414.2" x2="563" y2="410.4" stroke="#ffefc4" stroke-opacity="0.85" stroke-width="0.8" stroke-linecap="round"/>
<line x1="540.3" y1="415.5" x2="552.9" y2="414.2" stroke="#ffefc4" stroke-opacity="0.85" stroke-width="0.8" stroke-linecap="round"/>
<line x1="527.8" y1="415.5" x2="540.3" y2="415.5" stroke="#ffefc4" stroke-opacity="0.85" stroke-width="0.8" stroke-linecap="round"/>
<line x1="517.7" y1="416.7" x2="527.8" y2="415.5" stroke="#ffefc4" stroke-opacity="0.85" stroke-width="0.8" stroke-linecap="round"/>
<line x1="514" y1="411.7" x2="517.7" y2="416.7" stroke="#ffefc4" stroke-opacity="0.85" stroke-width="0.8" stroke-linecap="round"/>
<line x1="576.4" y1="454.3" x2="577.3" y2="450.6" stroke="#ffefc4" stroke-opacity="0.85" stroke-width="0.8" stroke-linecap="round"/>
<line x1="571.7" y1="458" x2="576.4" y2="454.3" stroke="#ffefc4" stroke-opacity="0.85" stroke-width="0.8" stroke-linecap="round"/>
<line x1="564.2" y1="460" x2="571.7" y2="458" stroke="#ffefc4" stroke-opacity="0.85" stroke-width="0.8" stroke-linecap="round"/>
<line x1="556.7" y1="460.9" x2="564.2" y2="460" stroke="#ffefc4" stroke-opacity="0.85" stroke-width="0.8" stroke-linecap="round"/>
<line x1="551.1" y1="459" x2="556.7" y2="460.9" stroke="#ffefc4" stroke-opacity="0.85" stroke-width="0.8" stroke-linecap="round"/>
<line x1="543.6" y1="460.9" x2="551.1" y2="459" stroke="#ffefc4" stroke-opacity="0.85" stroke-width="0.8" stroke-linecap="round"/>
<line x1="536.1" y1="464.6" x2="543.6" y2="460.9" stroke="#ffefc4" stroke-opacity="0.85" stroke-width="0.8" stroke-linecap="round"/>
<line x1="527.7" y1="466.5" x2="536.1" y2="464.6" stroke="#ffefc4" stroke-opacity="0.85" stroke-width="0.8" stroke-linecap="round"/>
<line x1="418" y1="367.7" x2="420.6" y2="374.6" stroke="#ffefc4" stroke-opacity="0.85" stroke-width="0.8" stroke-linecap="round"/>
<line x1="416" y1="381" x2="420.6" y2="374.6" stroke="#ffefc4" stroke-opacity="0.85" stroke-width="0.8" stroke-linecap="round"/>
<line x1="412.2" y1="386.3" x2="416" y2="381" stroke="#ffefc4" stroke-opacity="0.85" stroke-width="0.8" stroke-linecap="round"/>
<line x1="408.3" y1="391.6" x2="412.2" y2="386.3" stroke="#ffefc4" stroke-opacity="0.85" stroke-width="0.8" stroke-linecap="round"/>
<line x1="399.2" y1="394.2" x2="408.3" y2="391.6" stroke="#ffefc4" stroke-opacity="0.85" stroke-width="0.8" stroke-linecap="round"/>
<line x1="388.7" y1="394.2" x2="399.2" y2="394.2" stroke="#ffefc4" stroke-opacity="0.85" stroke-width="0.8" stroke-linecap="round"/>
<polyline points="486.5,130.2 492.8,129.0 502.8,130.2 512.9,134.0 519.0,135.2" fill="none" stroke="#ffefc4" stroke-opacity="0.85" stroke-width="0.8" stroke-linejoin="round"/>
<polyline points="455.0,168.5 467.7,166.6 477.7,164.0 487.8,165.3 497.8,161.5 505.3,165.3 515.4,167.8 522.9,167.8" fill="none" stroke="#ffefc4" stroke-opacity="0.85" stroke-width="0.8" stroke-linejoin="round"/>
<polygon points="202.5,451 205.5,449.8 207.8,453.5 203.5,455" fill="#f5f5f5"/>
<circle cx="556.7" cy="474.9" r="1" fill="#4b1618"/>
<circle cx="571.1" cy="476.8" r="1" fill="#4b1618"/>
<circle cx="568" cy="489" r="1" fill="#4b1618"/>
<circle cx="558.6" cy="494.6" r="1" fill="#4b1618"/>
<circle cx="566" cy="489.5" r="1" fill="#4b1618"/>
<polyline points="297.7,185.2 322.0,185.2" fill="none" stroke="#333" stroke-width="0.7"/>
<polyline points="249.4,245.9 249.4,266.4 274.0,266.4" fill="none" stroke="#333" stroke-width="0.7"/>
<polyline points="232.2,267.2 243.8,267.2 243.8,283.6" fill="none" stroke="#333" stroke-width="0.7"/>
<polyline points="276.0,328.4 280.8,328.4 280.8,313.9" fill="none" stroke="#333" stroke-width="0.7"/>
<polyline points="527.6,315.5 527.6,319.4 481.8,319.4" fill="none" stroke="#333" stroke-width="0.7"/>
<polyline points="393.4,386.3 393.4,410.4" fill="none" stroke="#333" stroke-width="0.7"/>
<polyline points="429.2,390.2 429.2,412.2 442.2,412.2" fill="none" stroke="#333" stroke-width="0.7"/>
<polyline points="26.9,464.6 26.9,472.2 57.7,472.2" fill="none" stroke="#333" stroke-width="0.7"/>
<text transform="translate(479.5,35.4) scale(1.0,1)" text-anchor="middle" font-weight="700" font-size="12.7" fill="#1a1a1a" stroke="#1a1a1a" stroke-width="0.3">FI</text>
<text x="467.70" y="48.4" font-size="13.2" fill="#2a2a2a" stroke="#2a2a2a" stroke-width="0.2" textLength="23.2" lengthAdjust="spacingAndGlyphs">19.3</text>
<text transform="translate(383,107.4) scale(1.0,1)" text-anchor="middle" font-weight="700" font-size="12.7" fill="#1a1a1a" stroke="#1a1a1a" stroke-width="0.3">SE</text>
<text x="370.00" y="120.4" font-size="13.2" fill="#2a2a2a" stroke="#2a2a2a" stroke-width="0.2" textLength="25.6" lengthAdjust="spacingAndGlyphs">23.9</text>
<text transform="translate(500.8,112.2) scale(1.0,1)" text-anchor="middle" font-weight="700" font-size="12.7" fill="#1a1a1a" stroke="#1a1a1a" stroke-width="0.3">EE</text>
<text x="489.00" y="124.8" font-size="13.2" fill="#2a2a2a" stroke="#2a2a2a" stroke-width="0.2" textLength="23.2" lengthAdjust="spacingAndGlyphs">17.7</text>
<text transform="translate(505.3,147.4) scale(1.0,1)" text-anchor="middle" font-weight="700" font-size="12.7" fill="#1a1a1a" stroke="#1a1a1a" stroke-width="0.3">LV</text>
<text x="493.50" y="159.9" font-size="13.2" fill="#2a2a2a" stroke="#2a2a2a" stroke-width="0.2" textLength="23.2" lengthAdjust="spacingAndGlyphs">17.8</text>
<text transform="translate(495.3,181.8) scale(1.0,1)" text-anchor="middle" font-weight="700" font-size="12.7" fill="#1a1a1a" stroke="#1a1a1a" stroke-width="0.3">LT</text>
<text x="484.70" y="194.3" font-size="13.2" fill="#2a2a2a" stroke="#2a2a2a" stroke-width="0.2" textLength="20.8" lengthAdjust="spacingAndGlyphs">15.1</text>
<text transform="translate(115.5,216.8) scale(1.0,1)" text-anchor="middle" font-weight="700" font-size="12.7" fill="#1a1a1a" stroke="#1a1a1a" stroke-width="0.3">IE</text>
<text x="104.90" y="230.1" font-size="13.2" fill="#2a2a2a" stroke="#2a2a2a" stroke-width="0.2" textLength="20.8" lengthAdjust="spacingAndGlyphs">17.1</text>
<text transform="translate(282.5,191.7) scale(1.0,1)" text-anchor="middle" font-weight="700" font-size="12.7" fill="#1a1a1a" stroke="#1a1a1a" stroke-width="0.3">DK</text>
<text x="269.50" y="204.2" font-size="13.2" fill="#2a2a2a" stroke="#2a2a2a" stroke-width="0.2" textLength="25.6" lengthAdjust="spacingAndGlyphs">25.9</text>
<text transform="translate(250,228.9) scale(1.0,1)" text-anchor="middle" font-weight="700" font-size="12.7" fill="#1a1a1a" stroke="#1a1a1a" stroke-width="0.3">NL</text>
<text x="237.00" y="241.9" font-size="13.2" fill="#2a2a2a" stroke="#2a2a2a" stroke-width="0.2" textLength="25.6" lengthAdjust="spacingAndGlyphs">22.9</text>
<text transform="translate(213.7,260.5) scale(1.0,1)" text-anchor="middle" font-weight="700" font-size="12.7" fill="#1a1a1a" stroke="#1a1a1a" stroke-width="0.3">BE</text>
<text x="201.90" y="273.6" font-size="13.2" fill="#2a2a2a" stroke="#2a2a2a" stroke-width="0.2" textLength="23.2" lengthAdjust="spacingAndGlyphs">18.8</text>
<text transform="translate(262.6,334.6) scale(1.0,1)" text-anchor="middle" font-weight="700" font-size="12.7" fill="#1a1a1a" stroke="#1a1a1a" stroke-width="0.3">LU</text>
<text x="249.60" y="347.7" font-size="13.2" fill="#2a2a2a" stroke="#2a2a2a" stroke-width="0.2" textLength="25.6" lengthAdjust="spacingAndGlyphs">20.4</text>
<text transform="translate(333,280.7) scale(1.0,1)" text-anchor="middle" font-weight="700" font-size="12.7" fill="#ffffff" stroke="#ffffff" stroke-width="0.3">DE</text>
<text x="320.00" y="294.3" font-size="13.2" fill="#ffffff" stroke="#ffffff" stroke-width="0.2" textLength="25.6" lengthAdjust="spacingAndGlyphs">25.2</text>
<text transform="translate(397,308.9) scale(1.0,1)" text-anchor="middle" font-weight="700" font-size="12.7" fill="#1a1a1a" stroke="#1a1a1a" stroke-width="0.3">CZ</text>
<text x="385.20" y="321.4" font-size="13.2" fill="#2a2a2a" stroke="#2a2a2a" stroke-width="0.2" textLength="23.2" lengthAdjust="spacingAndGlyphs">22.1</text>
<text transform="translate(449.8,256.1) scale(1.0,1)" text-anchor="middle" font-weight="700" font-size="12.7" fill="#1a1a1a" stroke="#1a1a1a" stroke-width="0.3">PL</text>
<text x="438.00" y="269.2" font-size="13.2" fill="#2a2a2a" stroke="#2a2a2a" stroke-width="0.2" textLength="23.2" lengthAdjust="spacingAndGlyphs">17.8</text>
<text transform="translate(527.6,297.6) scale(1.0,1)" text-anchor="middle" font-weight="700" font-size="12.7" fill="#1a1a1a" stroke="#1a1a1a" stroke-width="0.3">SK</text>
<text x="515.80" y="310.1" font-size="13.2" fill="#2a2a2a" stroke="#2a2a2a" stroke-width="0.2" textLength="23.2" lengthAdjust="spacingAndGlyphs">18.7</text>
<text transform="translate(395.7,351.7) scale(1.0,1)" text-anchor="middle" font-weight="700" font-size="12.7" fill="#1a1a1a" stroke="#1a1a1a" stroke-width="0.3">AT</text>
<text x="383.90" y="364.9" font-size="13.2" fill="#2a2a2a" stroke="#2a2a2a" stroke-width="0.2" textLength="23.2" lengthAdjust="spacingAndGlyphs">19.0</text>
<text transform="translate(463,357.5) scale(1.0,1)" text-anchor="middle" font-weight="700" font-size="12.7" fill="#1a1a1a" stroke="#1a1a1a" stroke-width="0.3">HU</text>
<text x="451.20" y="369.9" font-size="13.2" fill="#2a2a2a" stroke="#2a2a2a" stroke-width="0.2" textLength="23.2" lengthAdjust="spacingAndGlyphs">19.0</text>
<text transform="translate(540.8,369.9) scale(1.0,1)" text-anchor="middle" font-weight="700" font-size="12.7" fill="#1a1a1a" stroke="#1a1a1a" stroke-width="0.3">RO</text>
<text x="529.00" y="382.5" font-size="13.2" fill="#2a2a2a" stroke="#2a2a2a" stroke-width="0.2" textLength="23.2" lengthAdjust="spacingAndGlyphs">19.0</text>
<text transform="translate(233,371.7) scale(1.0,1)" text-anchor="middle" font-weight="700" font-size="12.7" fill="#1a1a1a" stroke="#1a1a1a" stroke-width="0.3">FR</text>
<text x="221.20" y="384.9" font-size="13.2" fill="#2a2a2a" stroke="#2a2a2a" stroke-width="0.2" textLength="23.2" lengthAdjust="spacingAndGlyphs">17.9</text>
<text transform="translate(339.8,404.9) scale(1.0,1)" text-anchor="middle" font-weight="700" font-size="12.7" fill="#1a1a1a" stroke="#1a1a1a" stroke-width="0.3">IT</text>
<text x="328.00" y="417.5" font-size="13.2" fill="#2a2a2a" stroke="#2a2a2a" stroke-width="0.2" textLength="23.2" lengthAdjust="spacingAndGlyphs">14.5</text>
<text transform="translate(393.4,423.5) scale(1.0,1)" text-anchor="middle" font-weight="700" font-size="12.7" fill="#1a1a1a" stroke="#1a1a1a" stroke-width="0.3">SI</text>
<text x="381.60" y="436.2" font-size="13.2" fill="#2a2a2a" stroke="#2a2a2a" stroke-width="0.2" textLength="23.2" lengthAdjust="spacingAndGlyphs">13.8</text>
<text transform="translate(455.3,418.6) scale(1.0,1)" text-anchor="middle" font-weight="700" font-size="12.7" fill="#1a1a1a" stroke="#1a1a1a" stroke-width="0.3">HR</text>
<text x="443.50" y="431.5" font-size="13.2" fill="#2a2a2a" stroke="#2a2a2a" stroke-width="0.2" textLength="23.2" lengthAdjust="spacingAndGlyphs">14.4</text>
<text transform="translate(556.7,432.9) scale(1.0,1)" text-anchor="middle" font-weight="700" font-size="12.7" fill="#1a1a1a" stroke="#1a1a1a" stroke-width="0.3">BG</text>
<text x="544.90" y="445.9" font-size="13.2" fill="#2a2a2a" stroke="#2a2a2a" stroke-width="0.2" textLength="23.2" lengthAdjust="spacingAndGlyphs">21.2</text>
<text transform="translate(27.6,444.2) scale(1.0,1)" text-anchor="middle" font-weight="700" font-size="12.7" fill="#1a1a1a" stroke="#1a1a1a" stroke-width="0.3">PT</text>
<text x="15.80" y="457.5" font-size="13.2" fill="#2a2a2a" stroke="#2a2a2a" stroke-width="0.2" textLength="23.2" lengthAdjust="spacingAndGlyphs">14.0</text>
<text transform="translate(118,488.1) scale(1.0,1)" text-anchor="middle" font-weight="700" font-size="12.7" fill="#1a1a1a" stroke="#1a1a1a" stroke-width="0.3">ES</text>
<text x="106.20" y="501.4" font-size="13.2" fill="#2a2a2a" stroke="#2a2a2a" stroke-width="0.2" textLength="23.2" lengthAdjust="spacingAndGlyphs">17.2</text>
<text transform="translate(512.8,499.1) scale(1.0,1)" text-anchor="middle" font-weight="700" font-size="12.7" fill="#ffffff" stroke="#ffffff" stroke-width="0.3">EL</text>
<rect x="628" y="29.6" width="18.6" height="39.5" fill="#fdf391"/>
<rect x="628" y="68.8" width="18.6" height="39.5" fill="#fbbd16"/>
<rect x="628" y="108.0" width="18.6" height="39.7" fill="#f7961f"/>
<rect x="628" y="147.4" width="18.6" height="39.6" fill="#f05523"/>
<rect x="628" y="186.7" width="18.6" height="39.9" fill="#7a1f20"/>
<rect x="628" y="226.3" width="18.6" height="38.8" fill="#4b1618"/>
<line x1="647.3000000000001" y1="29.3" x2="652.6" y2="29.3" stroke="#555" stroke-width="0.7"/>
<text x="657.4" y="34.9" font-size="15.6" fill="#333" textLength="31.4" lengthAdjust="spacingAndGlyphs">10%</text>
<line x1="628" y1="68.8" x2="646.6" y2="68.8" stroke="#ffffff" stroke-opacity="0.55" stroke-width="0.6"/>
<line x1="647.3000000000001" y1="68.5" x2="652.6" y2="68.5" stroke="#555" stroke-width="0.7"/>
<text x="657.4" y="74.1" font-size="15.6" fill="#333" textLength="31.4" lengthAdjust="spacingAndGlyphs">15%</text>
<line x1="628" y1="108.0" x2="646.6" y2="108.0" stroke="#ffffff" stroke-opacity="0.55" stroke-width="0.6"/>
<line x1="647.3000000000001" y1="107.7" x2="652.6" y2="107.7" stroke="#555" stroke-width="0.7"/>
<text x="657.4" y="113.3" font-size="15.6" fill="#333" textLength="32.9" lengthAdjust="spacingAndGlyphs">20%</text>
<line x1="628" y1="147.4" x2="646.6" y2="147.4" stroke="#ffffff" stroke-opacity="0.55" stroke-width="0.6"/>
<line x1="647.3000000000001" y1="147.1" x2="652.6" y2="147.1" stroke="#555" stroke-width="0.7"/>
<text x="657.4" y="152.7" font-size="15.6" fill="#333" textLength="32.9" lengthAdjust="spacingAndGlyphs">25%</text>
<line x1="628" y1="186.7" x2="646.6" y2="186.7" stroke="#ffffff" stroke-opacity="0.55" stroke-width="0.6"/>
<line x1="647.3000000000001" y1="186.39999999999998" x2="652.6" y2="186.39999999999998" stroke="#555" stroke-width="0.7"/>
<text x="657.4" y="192.0" font-size="15.6" fill="#333" textLength="32.9" lengthAdjust="spacingAndGlyphs">30%</text>
<line x1="628" y1="226.3" x2="646.6" y2="226.3" stroke="#ffffff" stroke-opacity="0.55" stroke-width="0.6"/>
<line x1="647.3000000000001" y1="226.0" x2="652.6" y2="226.0" stroke="#555" stroke-width="0.7"/>
<text x="657.4" y="231.6" font-size="15.6" fill="#333" textLength="32.9" lengthAdjust="spacingAndGlyphs">35%</text>
<line x1="647.3000000000001" y1="264.5" x2="652.6" y2="264.5" stroke="#555" stroke-width="0.7"/>
<text x="657.4" y="270.1" font-size="15.6" fill="#333" textLength="32.9" lengthAdjust="spacingAndGlyphs">40%</text>
<text x="611.5" y="2.2" font-size="15.6" fill="#333" textLength="77.5" lengthAdjust="spacingAndGlyphs">on housing</text>
<text x="38.20" y="27.90" font-weight="700" font-size="33.4" fill="#1d1d1b" stroke="#1d1d1b" stroke-width="1.6" textLength="66.2" lengthAdjust="spacingAndGlyphs">HOW</text>
<text x="110.70" y="27.90" font-weight="700" font-size="33.4" fill="#1d1d1b" stroke="#1d1d1b" stroke-width="1.6" textLength="75.5" lengthAdjust="spacingAndGlyphs">MUCH</text>
<text x="192.90" y="27.90" font-weight="700" font-size="33.4" fill="#1d1d1b" stroke="#1d1d1b" stroke-width="1.6" textLength="35.3" lengthAdjust="spacingAndGlyphs">OF</text>
<text x="233.40" y="27.90" font-weight="700" font-size="33.4" fill="#1d1d1b" stroke="#1d1d1b" stroke-width="1.6" textLength="77.4" lengthAdjust="spacingAndGlyphs">THEIR</text>
<text x="38.20" y="66.20" font-weight="700" font-size="33.4" fill="#f7941e" stroke="#f7941e" stroke-width="1.6" textLength="163.9" lengthAdjust="spacingAndGlyphs">DISPOSABLE</text>
<text x="210.90" y="66.20" font-weight="700" font-size="33.4" fill="#f7941e" stroke="#f7941e" stroke-width="1.6" textLength="98.9" lengthAdjust="spacingAndGlyphs">INCOME</text>
<text x="72.20" y="104.60" font-weight="700" font-size="33.4" fill="#1d1d1b" stroke="#1d1d1b" stroke-width="1.6" textLength="37.3" lengthAdjust="spacingAndGlyphs">DO</text>
<text x="117.40" y="104.60" font-weight="700" font-size="33.4" fill="#1d1d1b" stroke="#1d1d1b" stroke-width="1.6" textLength="160.3" lengthAdjust="spacingAndGlyphs">EUROPEANS</text>
<text x="37.20" y="142.90" font-weight="700" font-size="33.4" fill="#f7941e" stroke="#f7941e" stroke-width="1.6" textLength="82.4" lengthAdjust="spacingAndGlyphs">SPEND</text>
<text x="130.50" y="142.90" font-weight="700" font-size="33.4" fill="#f7941e" stroke="#f7941e" stroke-width="1.6" textLength="38.3" lengthAdjust="spacingAndGlyphs">ON</text>
<text x="176.20" y="142.90" font-weight="700" font-size="33.4" fill="#f7941e" stroke="#f7941e" stroke-width="1.6" textLength="120.5" lengthAdjust="spacingAndGlyphs">HOUSING</text>
<text x="297.50" y="142.90" font-weight="700" font-size="33.4" fill="#1d1d1b" stroke="#1d1d1b" stroke-width="1.6" textLength="14.3" lengthAdjust="spacingAndGlyphs">?</text>
</svg>
</body></html>
